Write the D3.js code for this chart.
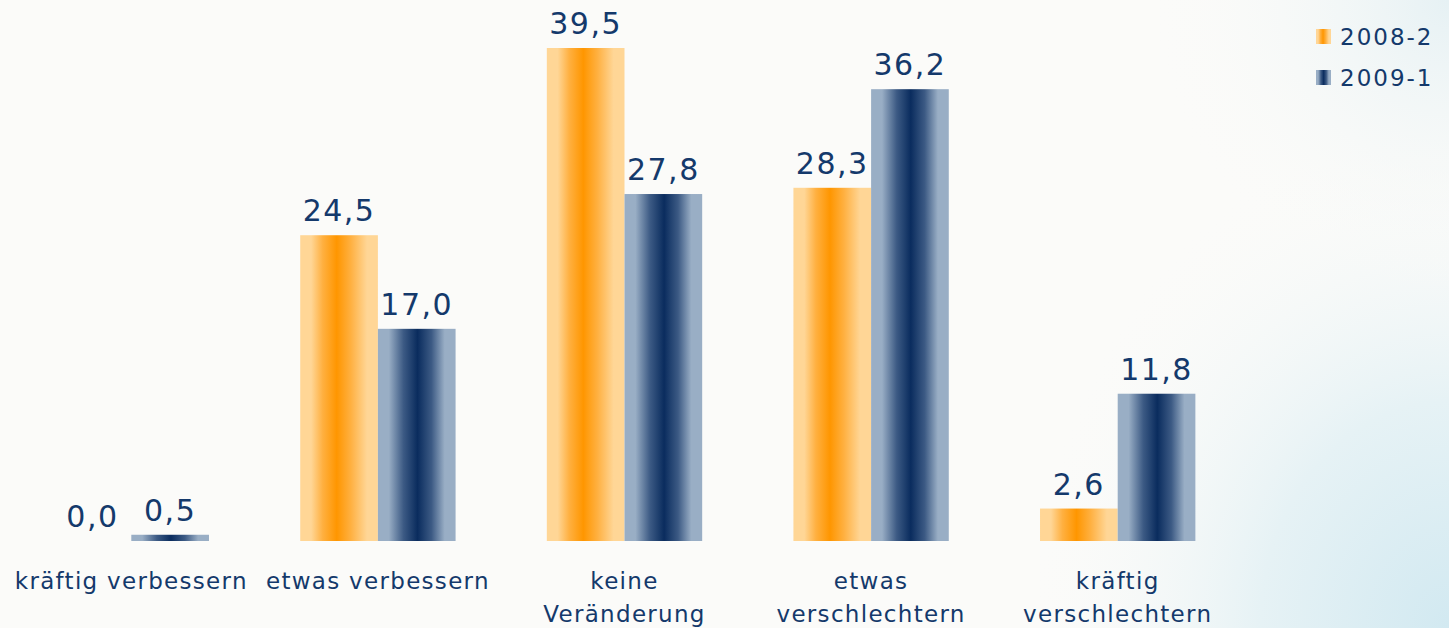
<!DOCTYPE html>
<html>
  <head>
    <meta charset="utf-8">
    <title>Erwartung</title>
    <script src="https://d3js.org/d3.v7.min.js"></script>
    <style>
      html, body { margin: 0; padding: 0; background: #fbfbf9; }
      svg { display: block; }
      text { font-family: "DejaVu Sans", Verdana, sans-serif; fill: #14396b; }
    </style>
  </head>
  <body>
    <div id="vis"></div>
    <script>
      const width = 1449;
      const height = 628;

      // data
      const categories = [
        ["kräftig verbessern"],
        ["etwas verbessern"],
        ["keine", "Veränderung"],
        ["etwas", "verschlechtern"],
        ["kräftig", "verschlechtern"]
      ];
      const seriesNames = ["2008-2", "2009-1"];
      const values2008 = [0.0, 24.5, 39.5, 28.3, 2.6];
      const values2009 = [0.5, 17.0, 27.8, 36.2, 11.8];

      const svg = d3.select("#vis")
        .append("svg")
        .attr("width", width)
        .attr("height", height);

      const defs = svg.append("defs");

      // background wash, bluish towards the right-hand corners
      const bg = defs.append("radialGradient")
        .attr("id", "bg")
        .attr("gradientUnits", "userSpaceOnUse")
        .attr("cx", 1449).attr("cy", 628).attr("r", 420)
        .attr("gradientTransform", "translate(1449,628) scale(1,1.2) translate(-1449,-628)");
      bg.append("stop").attr("offset", "0%").attr("stop-color", "#d2e9f1");
      bg.append("stop").attr("offset", "45%").attr("stop-color", "#e6f2f5");
      bg.append("stop").attr("offset", "100%").attr("stop-color", "#fbfbf9").attr("stop-opacity", 0);
      const bg2 = defs.append("radialGradient")
        .attr("id", "bg2")
        .attr("gradientUnits", "userSpaceOnUse")
        .attr("cx", 1449).attr("cy", 0).attr("r", 300);
      bg2.append("stop").attr("offset", "0%").attr("stop-color", "#e6f1f4");
      bg2.append("stop").attr("offset", "100%").attr("stop-color", "#fbfbf9").attr("stop-opacity", 0);

      svg.append("rect").attr("width", width).attr("height", height).attr("fill", "#fbfbf9");
      svg.append("rect").attr("width", width).attr("height", height).attr("fill", "url(#bg)");
      svg.append("rect").attr("width", width).attr("height", height).attr("fill", "url(#bg2)");

      // bar gradients: light edges, strong colour band near the middle
      function barGradient(id, edge, mid, core, centre) {
        const g = defs.append("linearGradient").attr("id", id)
          .attr("x1", "0%").attr("x2", "100%").attr("y1", "0%").attr("y2", "0%");
        g.append("stop").attr("offset", "0%").attr("stop-color", edge);
        g.append("stop").attr("offset", "14%").attr("stop-color", edge);
        g.append("stop").attr("offset", (centre - 18) + "%").attr("stop-color", mid);
        g.append("stop").attr("offset", centre + "%").attr("stop-color", core);
        g.append("stop").attr("offset", (centre + 18) + "%").attr("stop-color", mid);
        g.append("stop").attr("offset", "86%").attr("stop-color", edge);
        g.append("stop").attr("offset", "100%").attr("stop-color", edge);
      }
      barGradient("g0", "#ffd696", "#ffb040", "#ff9600", 47);
      barGradient("g1", "#99aec5", "#3c5a84", "#0a2c5e", 51);

      const baseline = 541;
      const x0 = d3.scaleBand()
        .domain(d3.range(categories.length))
        .range([8, 1241])
        .paddingInner(0.37)
        .paddingOuter(0.185);
      const x1 = d3.scaleBand()
        .domain([0, 1])
        .range([0, x0.bandwidth()]);
      const y = d3.scaleLinear()
        .domain([0, 39.5])
        .range([baseline, 48]);

      const fmt = v => d3.format(".1f")(v).replace(".", ",");

      const rows = categories.map((c, i) => ({ i: i, vals: [values2008[i], values2009[i]] }));

      const group = svg.append("g")
        .selectAll("g")
        .data(rows)
        .join("g")
        .attr("transform", d => "translate(" + x0(d.i) + ",0)");

      group.selectAll("rect")
        .data(d => d.vals.map((v, s) => ({ v: v, s: s })))
        .join("rect")
        .attr("x", d => x1(d.s))
        .attr("y", d => y(d.v))
        .attr("width", x1.bandwidth())
        .attr("height", d => baseline - y(d.v))
        .attr("fill", d => "url(#g" + d.s + ")");

      group.selectAll("text.val")
        .data(d => d.vals.map((v, s) => ({ v: v, s: s })))
        .join("text")
        .attr("class", "val")
        .attr("x", d => x1(d.s) + x1.bandwidth() / 2)
        .attr("y", d => y(d.v) - 14)
        .attr("text-anchor", "middle")
        .attr("font-size", 30)
        .attr("letter-spacing", 1.5)
        .text(d => fmt(d.v));

      // category labels
      const lab = svg.append("g")
        .selectAll("text")
        .data(categories)
        .join("text")
        .attr("x", (d, i) => x0(i) + x0.bandwidth() / 2)
        .attr("y", 589)
        .attr("text-anchor", "middle")
        .attr("font-size", 23)
        .attr("letter-spacing", 1.3);
      lab.selectAll("tspan")
        .data(d => d)
        .join("tspan")
        .attr("x", function () { return this.parentNode.getAttribute("x"); })
        .attr("dy", (d, j) => j === 0 ? 0 : 33)
        .text(d => d);

      // legend
      const legend = svg.append("g")
        .selectAll("g")
        .data(seriesNames)
        .join("g")
        .attr("transform", (d, i) => "translate(1316," + (29 + i * 41) + ")");
      legend.append("rect")
        .attr("width", 15).attr("height", 15)
        .attr("fill", (d, i) => "url(#g" + i + ")");
      legend.append("text")
        .attr("x", 24).attr("y", 16)
        .attr("font-size", 23)
        .attr("letter-spacing", 2)
        .text(d => d);
    </script>
  </body>
</html>
